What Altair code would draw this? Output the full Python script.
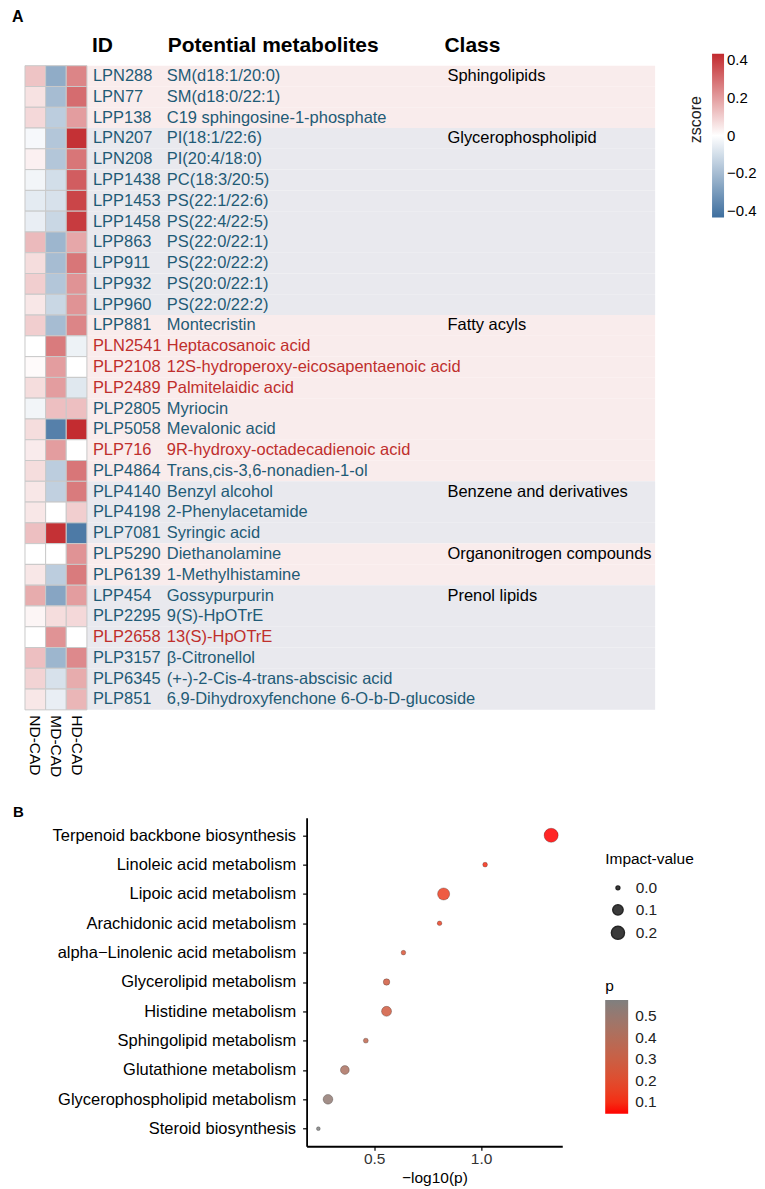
import altair as alt
import pandas as pd

FONT = "Liberation Sans"
TEAL = "#1f5b76"
RED = "#bf2f2c"

# ---------------- Panel A data ----------------
ids = ["LPN288", "LPN77", "LPP138", "LPN207", "LPN208", "LPP1438", "LPP1453", "LPP1458",
       "LPP863", "LPP911", "LPP932", "LPP960", "LPP881", "PLN2541", "PLP2108", "PLP2489",
       "PLP2805", "PLP5058", "PLP716", "PLP4864", "PLP4140", "PLP4198", "PLP7081", "PLP5290",
       "PLP6139", "LPP454", "PLP2295", "PLP2658", "PLP3157", "PLP6345", "PLP851"]
names = ["SM(d18:1/20:0)", "SM(d18:0/22:1)", "C19 sphingosine-1-phosphate", "PI(18:1/22:6)",
         "PI(20:4/18:0)", "PC(18:3/20:5)", "PS(22:1/22:6)", "PS(22:4/22:5)", "PS(22:0/22:1)",
         "PS(22:0/22:2)", "PS(20:0/22:1)", "PS(22:0/22:2)", "Montecristin", "Heptacosanoic acid",
         "12S-hydroperoxy-eicosapentaenoic acid", "Palmitelaidic acid", "Myriocin",
         "Mevalonic acid", "9R-hydroxy-octadecadienoic acid", "Trans,cis-3,6-nonadien-1-ol",
         "Benzyl alcohol", "2-Phenylacetamide", "Syringic acid", "Diethanolamine",
         "1-Methylhistamine", "Gossypurpurin", "9(S)-HpOTrE", "13(S)-HpOTrE", "β-Citronellol",
         "(+-)-2-Cis-4-trans-abscisic acid", "6,9-Dihydroxyfenchone 6-O-b-D-glucoside"]
classes = (["Sphingolipids"] * 3 + ["Glycerophospholipid"] * 9 + ["Fatty acyls"] * 8 +
           ["Benzene and derivatives"] * 3 + ["Organonitrogen compounds"] * 2 +
           ["Prenol lipids"] * 6)
groups = ["ND-CAD", "MD-CAD", "HD-CAD"]
nd_cad = [0.12, 0.06, 0.08, -0.02, 0.03, -0.03, -0.06, -0.05, 0.14, 0.07, 0.10, 0.05, 0.10,
          0.00, 0.01, 0.07, -0.03, 0.07, 0.04, 0.07, 0.05, 0.05, 0.13, 0.00, 0.05, 0.17,
          0.02, 0.00, 0.13, 0.09, 0.05]
md_cad = [-0.25, -0.20, -0.15, -0.17, -0.17, -0.10, -0.09, -0.12, -0.22, -0.20, -0.17, -0.12,
          -0.20, 0.27, 0.20, 0.20, 0.13, -0.38, 0.20, -0.15, -0.14, 0.00, 0.42, 0.00, -0.15,
          -0.27, 0.07, 0.22, -0.22, -0.09, -0.05]
hd_cad = [0.25, 0.30, 0.20, 0.42, 0.28, 0.33, 0.38, 0.40, 0.18, 0.28, 0.22, 0.22, 0.25, -0.04,
          0.00, -0.07, 0.13, 0.43, 0.00, 0.28, 0.27, 0.10, -0.40, 0.22, 0.27, 0.20, 0.08,
          0.00, 0.24, 0.17, 0.15]
highlighted = ["PLN2541", "PLP2108", "PLP2489", "PLP716", "PLP2658"]
headers = ["ID", "Potential metabolites", "Class"]
z_ticks = [-0.4, -0.2, 0, 0.2, 0.4]

# ---------------- Panel B data ----------------
pathways = ["Terpenoid backbone biosynthesis", "Linoleic acid metabolism",
            "Lipoic acid metabolism", "Arachidonic acid metabolism",
            "alpha\u2212Linolenic acid metabolism", "Glycerolipid metabolism",
            "Histidine metabolism", "Sphingolipid metabolism", "Glutathione metabolism",
            "Glycerophospholipid metabolism", "Steroid biosynthesis"]
neglogp = [1.328, 1.019, 0.825, 0.806, 0.637, 0.558, 0.558, 0.461, 0.363, 0.284, 0.239]
impact = [0.25, 0.004, 0.16, 0.003, 0.003, 0.02, 0.089, 0.005, 0.06, 0.082, 0.0]
impact_ticks = [0.0, 0.1, 0.2]
p_ticks = [0.1, 0.2, 0.3, 0.4, 0.5]

# ---------------- tables ----------------
class_order = []
for c in classes:
    if c not in class_order:
        class_order.append(c)
rows = pd.DataFrame({"id": ids, "name": names, "cls": classes})
rows["band"] = [class_order.index(c) % 2 for c in classes]
rows["first"] = (~rows["cls"].duplicated()).astype(int)
rows["up"] = rows["id"].isin(highlighted).astype(int)

heat = pd.DataFrame({
    "id": ids * 3,
    "group": [g for g in groups for _ in ids],
    "z": nd_cad + md_cad + hd_cad,
})

# ---------------- Panel A ----------------
W_A, H_A, HEAT_W = 631, 645, 62
ROW_FS = 16.5
yA = alt.Y("id:N", sort=ids, scale=alt.Scale(paddingInner=0, paddingOuter=0), axis=None)
base_rows = alt.Chart(rows)

bands = base_rows.mark_rect().encode(
    y=yA, x=alt.value(HEAT_W), x2=alt.value(W_A),
    fill=alt.condition("datum.band == 0", alt.value("#f9ecec"), alt.value("#e9e9ee")),
)

heatmap = alt.Chart(heat).mark_rect(stroke="#c9c9c9", strokeWidth=1).encode(
    x=alt.X("group:N", sort=groups,
            scale=alt.Scale(range=[0, HEAT_W], paddingInner=0, paddingOuter=0),
            axis=alt.Axis(title=None, orient="bottom", labelAngle=90, labelFontSize=15.5,
                          labelColor="#000", ticks=False, domain=False, labelPadding=5)),
    y=yA,
    color=alt.Color("z:Q",
                    scale=alt.Scale(domain=[-0.435, 0, 0.435],
                                    range=["#3d6e9e", "#ffffff", "#c22a2e"],
                                    interpolate="rgb"),
                    legend=alt.Legend(orient="none", legendX=688, legendY=-12, title=None,
                                      direction="vertical", gradientLength=164,
                                      gradientThickness=12, values=z_ticks,
                                      labelExpr="datum.value == 0 ? '0' : format(datum.value, '.1f')",
                                      labelFontSize=15, labelColor="#000", labelOffset=3,
                                      gradientStrokeWidth=0, padding=0)),
)

id_text = base_rows.mark_text(align="left", baseline="middle", fontSize=ROW_FS).encode(
    x=alt.value(68), y=yA, text="id:N",
    color=alt.condition("datum.up == 1", alt.value(RED), alt.value(TEAL)),
)
name_text = base_rows.mark_text(align="left", baseline="middle", fontSize=ROW_FS).encode(
    x=alt.value(142), y=yA, text="name:N",
    color=alt.condition("datum.up == 1", alt.value(RED), alt.value(TEAL)),
)
class_text = base_rows.transform_filter("datum.first == 1").mark_text(
    align="left", baseline="middle", fontSize=ROW_FS, color="#000").encode(
    x=alt.value(423), y=yA, text="cls:N")

header_x = [67, 143, 420]
header_layers = []
for i, h in enumerate(headers):
    header_layers.append(
        alt.Chart(pd.DataFrame({"t": [h]})).mark_text(
            align="left", baseline="alphabetic", fontSize=21, fontWeight="bold", color="#000"
        ).encode(x=alt.value(header_x[i]), y=alt.value(-14), text="t:N")
    )

label_a = alt.Chart(pd.DataFrame({"t": ["A"]})).mark_text(
    align="left", baseline="alphabetic", fontSize=16, fontWeight="bold", color="#000"
).encode(x=alt.value(-13), y=alt.value(-44), text="t:N")

zscore_title = alt.Chart(pd.DataFrame({"t": ["zscore"]})).mark_text(
    align="center", baseline="middle", fontSize=16, angle=270, color="#222"
).encode(x=alt.value(672), y=alt.value(54), text="t:N")

panel_a = alt.layer(bands, heatmap, id_text, name_text, class_text, *header_layers,
                    label_a, zscore_title).properties(width=W_A, height=H_A)

# ---------------- Panel B ----------------
# panel B shares panel A's left origin; its plot area occupies x in [X0_B, W_B]
pb = pd.DataFrame({"pathway": pathways, "neglogp": neglogp, "impact": impact})
X0_B, W_B, H_B = 282, 538, 329

points = alt.Chart(pb).transform_calculate(p="pow(10, -datum.neglogp)").mark_circle(
    fillOpacity=0.85, stroke="#000", strokeOpacity=0.3, strokeWidth=0.8, opacity=1
).encode(
    x=alt.X("neglogp:Q",
            scale=alt.Scale(domain=[0.184, 1.38], nice=False, zero=False, range=[X0_B, W_B]),
            axis=alt.Axis(values=[0.5, 1.0], format=".1f", title="\u2212log10(p)", grid=False,
                          domainColor="#000", domainWidth=1.8, tickColor="#000", tickSize=4,
                          tickWidth=1.2, labelFontSize=15.5, labelColor="#333", labelPadding=1,
                          titleFontSize=15.5, titleFontWeight="normal", titleColor="#000",
                          titlePadding=4)),
    y=alt.Y("pathway:N", sort=pathways, scale=alt.Scale(type="point", padding=0.6),
            axis=alt.Axis(title=None, domainColor="#000", domainWidth=1.8, tickColor="#000",
                          tickSize=4, tickWidth=1.2, labelFontSize=16.5, labelColor="#000",
                          labelPadding=7, grid=False, labelLimit=400, offset=-X0_B)),
    size=alt.Size("impact:Q",
                  scale=alt.Scale(type="pow", exponent=0.75, domain=[0, 0.25], range=[14.5, 200]),
                  legend=alt.Legend(orient="none", legendX=X0_B + 299, legendY=34,
                                    title="Impact-value",
                                    values=impact_ticks, format=".1f", symbolType="circle",
                                    symbolFillColor="#1a1a1a", symbolStrokeColor="#000",
                                    symbolOpacity=0.85, labelFontSize=15.5, labelColor="#222",
                                    titleFontSize=15.5, titleFontWeight="normal",
                                    titleColor="#000", rowPadding=4, symbolOffset=5,
                                    labelOffset=10, padding=0, titlePadding=13)),
    color=alt.Color("p:Q", scale=alt.Scale(range=["#ff0000", "#7f7f7f"], interpolate="lab"),
                    legend=alt.Legend(orient="none", legendX=X0_B + 299, legendY=162, title="p",
                                      titleFontSize=15.5, titleFontWeight="normal",
                                      titleColor="#000", direction="vertical", type="gradient",
                                      gradientLength=114, gradientThickness=23, values=p_ticks,
                                      format=".1f", labelFontSize=15.5, labelColor="#222",
                                      labelOffset=7, gradientStrokeWidth=0, padding=0,
                                      titlePadding=5)),
)

label_b = alt.Chart(pd.DataFrame({"t": ["B"]})).mark_text(
    align="left", baseline="alphabetic", fontSize=15, fontWeight="bold", color="#000"
).encode(x=alt.value(-12), y=alt.value(-1), text="t:N")

panel_b = alt.layer(points, label_b).properties(width=W_B, height=H_B)

chart = alt.vconcat(panel_a, panel_b, spacing=28).resolve_scale(
    color="independent", size="independent", x="independent", y="independent"
).resolve_legend(color="independent", size="independent").properties(
    padding={"left": 4, "top": 0, "right": 0, "bottom": 0}
).configure(font=FONT).configure_view(strokeWidth=0)

chart.save("out.html", embed_options={"renderer": "svg", "actions": False})
